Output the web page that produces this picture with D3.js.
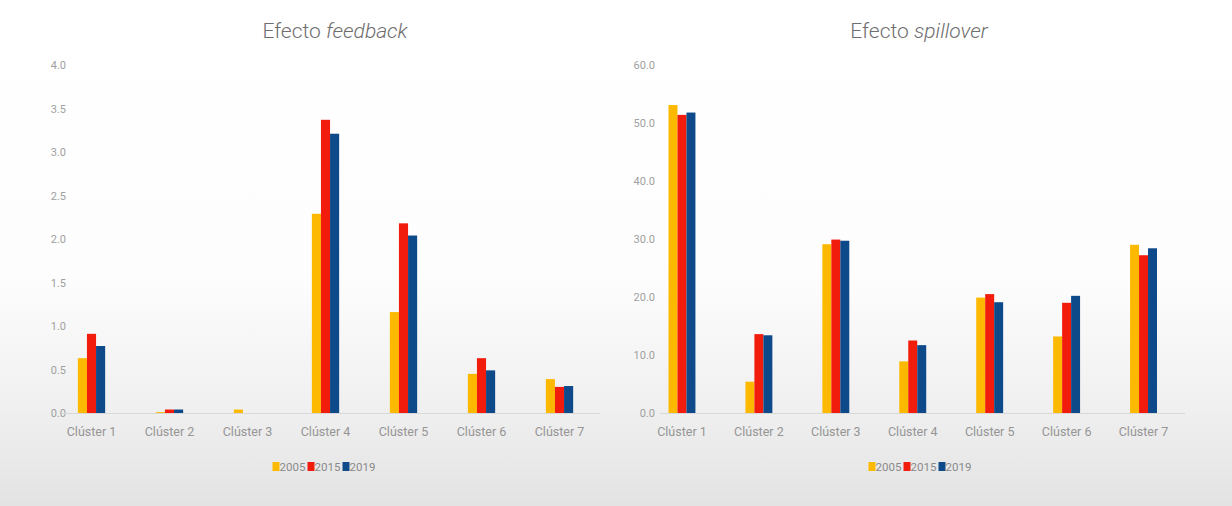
<!DOCTYPE html>
<html>
<head>
<meta charset="utf-8">
<script src="https://cdn.jsdelivr.net/npm/d3@7/dist/d3.min.js"></script>
<style>
  html, body { margin: 0; padding: 0; background: #fff; }
  svg { display: block; font-family: Roboto, "Noto Sans", sans-serif; }
</style>
</head>
<body>
<svg id="chart" width="1232" height="506"></svg>
<script>
// Clusters and years shown in both panels
const clusters = ["Clúster 1", "Clúster 2", "Clúster 3", "Clúster 4", "Clúster 5", "Clúster 6", "Clúster 7"];
const years = ["2005", "2015", "2019"];

// Efecto feedback, one array per year (cluster order)
const feedback2005 = [0.63, 0.01, 0.04, 2.29, 1.16, 0.45, 0.39];
const feedback2015 = [0.91, 0.04, 0.00, 3.37, 2.18, 0.63, 0.30];
const feedback2019 = [0.77, 0.04, 0.00, 3.21, 2.04, 0.49, 0.31];

// Efecto spillover, one array per year (cluster order)
const spillover2005 = [53.1, 5.4, 29.1, 8.9, 19.9, 13.2, 29.0];
const spillover2015 = [51.4, 13.6, 29.9, 12.5, 20.5, 19.0, 27.2];
const spillover2019 = [51.8, 13.4, 29.7, 11.7, 19.1, 20.2, 28.4];

// Axis ticks
const feedbackTicks = [0, 0.5, 1, 1.5, 2, 2.5, 3, 3.5, 4];
const spilloverTicks = [0, 10, 20, 30, 40, 50, 60];

const yearColors = ["#FDB900", "#F21C0C", "#0E4A8A"];

const svg = d3.select("#chart");

// Background: white fading into a light grey towards the bottom
const defs = svg.append("defs");
const bg = defs.append("linearGradient").attr("id", "bg").attr("x1", 0).attr("y1", 0).attr("x2", 0).attr("y2", 1);
bg.append("stop").attr("offset", "0%").attr("stop-color", "#ffffff");
bg.append("stop").attr("offset", "55%").attr("stop-color", "#fdfdfd");
bg.append("stop").attr("offset", "80%").attr("stop-color", "#f0f0f0");
bg.append("stop").attr("offset", "100%").attr("stop-color", "#e3e3e3");
svg.append("rect").attr("width", 1232).attr("height", 506).attr("fill", "url(#bg)");

function panel(opts) {
  const { titleMain, titleItalic, series, ticks, yMax, xRange, baseline, labelRight, titleX, legendX } = opts;
  const g = svg.append("g");
  const y0 = 413, yTop = 65;

  const x = d3.scaleBand().domain(clusters).range(xRange).paddingInner(0.65).paddingOuter(0.325);
  const xs = d3.scaleBand().domain(years).range([0, x.bandwidth()]);
  const y = d3.scaleLinear().domain([0, yMax]).range([y0, yTop]);

  // Title
  const t = g.append("text")
    .attr("x", titleX).attr("y", 38)
    .attr("text-anchor", "middle")
    .attr("font-size", 21).attr("font-weight", 300)
    .attr("fill", "#6e6e6e");
  t.append("tspan").text(titleMain + " ");
  t.append("tspan").attr("font-style", "italic").text(titleItalic);

  // Value axis (labels only)
  const yAxis = g.append("g")
    .attr("transform", `translate(${labelRight},0)`)
    .call(d3.axisLeft(y).tickValues(ticks).tickFormat(d3.format(".1f")).tickSize(0).tickPadding(0));
  yAxis.select(".domain").remove();
  yAxis.selectAll("text")
    .attr("font-family", "Roboto, sans-serif")
    .attr("font-size", 11).attr("fill", "#a0a0a0");

  // Baseline
  g.append("line")
    .attr("x1", baseline[0]).attr("x2", baseline[1])
    .attr("y1", y0 + 0.5).attr("y2", y0 + 0.5)
    .attr("stroke", "#d8d8d8").attr("stroke-width", 1);

  // Bars
  const groups = g.selectAll(".cluster")
    .data(clusters)
    .join("g")
    .attr("transform", d => `translate(${x(d)},0)`);
  groups.selectAll("rect")
    .data((d, i) => years.map((yr, k) => ({ yr, k, v: series[k][i] })))
    .join("rect")
    .attr("x", d => xs(d.yr))
    .attr("width", xs.bandwidth())
    .attr("y", d => y(d.v))
    .attr("height", d => y0 - y(d.v))
    .attr("fill", d => yearColors[d.k]);

  // Category axis
  const xAxis = g.append("g")
    .attr("transform", `translate(0,${y0})`)
    .call(d3.axisBottom(x).tickSize(0).tickPadding(14));
  xAxis.select(".domain").remove();
  xAxis.selectAll("text")
    .attr("font-family", "Roboto, sans-serif")
    .attr("font-size", 12.5).attr("fill", "#959595");

  // Legend
  const itemW = 35;
  const lg = g.append("g").attr("transform", `translate(${legendX - (itemW * years.length - 6) / 2},0)`);
  const items = lg.selectAll("g").data(years).join("g")
    .attr("transform", (d, i) => `translate(${i * itemW},0)`);
  items.append("rect").attr("x", 0).attr("y", 462).attr("width", 7).attr("height", 9)
    .attr("fill", (d, i) => yearColors[i]);
  items.append("text").attr("x", 7).attr("y", 471)
    .attr("font-size", 11.5).attr("fill", "#8a8a8a").text(d => d);
}

panel({
  titleMain: "Efecto", titleItalic: "feedback",
  series: [feedback2005, feedback2015, feedback2019],
  ticks: feedbackTicks, yMax: 4,
  xRange: [52.5, 598.5], baseline: [62, 600],
  labelRight: 66, titleX: 335, legendX: 322
});

panel({
  titleMain: "Efecto", titleItalic: "spillover",
  series: [spillover2005, spillover2015, spillover2019],
  ticks: spilloverTicks, yMax: 60,
  xRange: [643.5, 1182], baseline: [660, 1185],
  labelRight: 655, titleX: 919, legendX: 918
});
</script>
</body>
</html>
